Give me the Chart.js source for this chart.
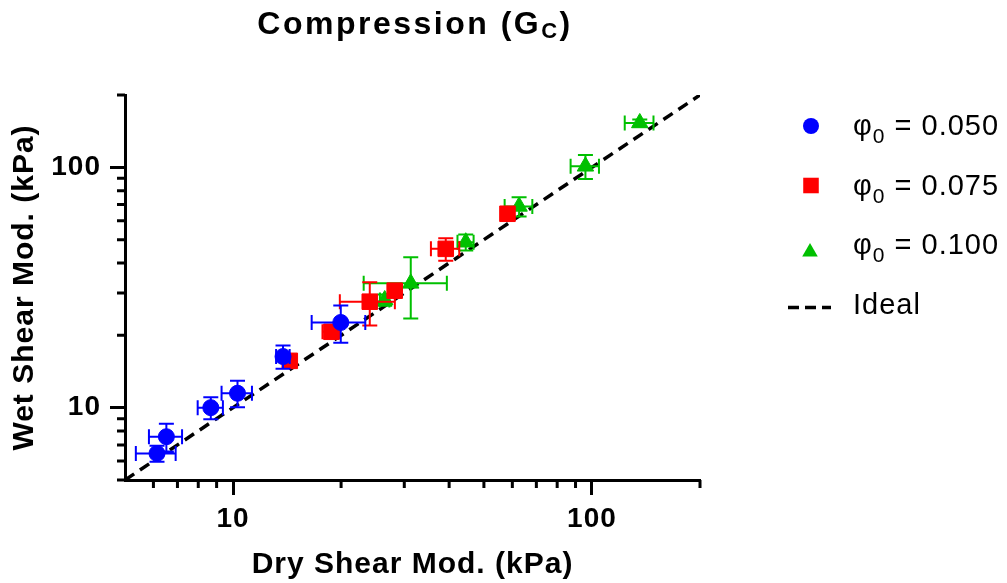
<!DOCTYPE html>
<html>
<head>
<meta charset="utf-8">
<title>Compression (GC)</title>
<script src="https://cdn.jsdelivr.net/npm/chart.js"></script>
<style>
    html, body { margin: 0; padding: 0; background: #fff; }
    #wrap { width: 1007px; height: 583px; position: relative; }
</style>
</head>
<body>
<div id="wrap"><canvas id="chart"></canvas></div>
<script>
// dry vs wet shear modulus (kPa), mean and SD per sample
var seriesLabels = ['0.050', '0.075', '0.100'];

var dryBlue = [6.14, 6.52, 8.67, 10.29, 13.78, 19.96];
var wetBlue = [6.45, 7.57, 10.0, 11.48, 16.32, 22.62];
var dryBlueSd = [0.78, 0.69, 0.70, 1.0, 0.6, 3.4];
var wetBlueSd = [0.5, 1.0, 1.05, 1.45, 1.8, 4.0];

var dryRed = [14.39, 18.8, 24.04, 28.21, 39.14, 58.16];
var wetRed = [15.66, 20.69, 27.6, 30.68, 45.8, 64.1];
var dryRedSd = [0.3, 1.05, 4.2, 1.0, 3.55, 1.5];
var wetRedSd = [0.5, 0.8, 5.65, 1.5, 4.95, 2.0];

var dryGreen = [26.46, 31.27, 44.5, 62.66, 95.9, 135.9];
var wetGreen = [28.06, 32.9, 48.8, 68.77, 101.0, 153.0];
var dryGreenSd = [0.8, 8.15, 2.3, 5.55, 8.7, 12.5];
var wetGreenSd = [1.5, 9.4, 3.7, 6.3, 11.5, 5.0];

var idealX = [5, 200];
var idealY = [5, 200];

var axisTicks = [5, 6, 7, 8, 9, 10, 20, 30, 40, 50, 60, 70, 80, 90, 100, 200];
var labelledTicks = [10, 100];

var FONT = '"Liberation Sans", Arial, Helvetica, sans-serif';
var CAP = 7.5;

function points(xs, ys) {
    return xs.map(function (x, i) { return {x: x, y: ys[i]}; });
}

function isLabelled(v) {
    return labelledTicks.indexOf(v) >= 0;
}

function tickColor(ctx) {
    return ctx.tick && isLabelled(ctx.tick.value) ? '#000' : 'rgba(0,0,0,0)';
}

function tickLabel(value) {
    return isLabelled(value) ? String(value) : '';
}

function drawShape(ctx, style, x, y, r) {
    ctx.beginPath();
    if (style === 'circle') {
        ctx.arc(x, y, r, 0, Math.PI * 2);
    } else if (style === 'rect') {
        var s = Math.SQRT1_2 * r;
        ctx.rect(x - s, y - s, 2 * s, 2 * s);
    } else {
        // same geometry as the chart.js triangle
        ctx.moveTo(x, y - r);
        ctx.lineTo(x + Math.sin(Math.PI * 2 / 3) * r, y + r / 2);
        ctx.lineTo(x - Math.sin(Math.PI * 2 / 3) * r, y + r / 2);
        ctx.closePath();
    }
    ctx.fill();
}

// x and y error bars, drawn under each dataset's own markers
var errorBars = {
    id: 'errorBars',
    beforeDatasetDraw: function (chart, args) {
        var ds = chart.data.datasets[args.index];
        if (!ds.errorX) return;
        var ctx = chart.ctx, xs = chart.scales.x, ys = chart.scales.y;
        ctx.save();
        ctx.strokeStyle = ds.borderColor;
        ctx.lineWidth = 2;
        ctx.beginPath();
        ds.data.forEach(function (p, i) {
            var px = xs.getPixelForValue(p.x), py = ys.getPixelForValue(p.y);
            var x1 = xs.getPixelForValue(p.x - ds.errorX[i]), x2 = xs.getPixelForValue(p.x + ds.errorX[i]);
            var y1 = ys.getPixelForValue(p.y - ds.errorY[i]), y2 = ys.getPixelForValue(p.y + ds.errorY[i]);
            ctx.moveTo(x1, py); ctx.lineTo(x2, py);
            ctx.moveTo(x1, py - CAP); ctx.lineTo(x1, py + CAP);
            ctx.moveTo(x2, py - CAP); ctx.lineTo(x2, py + CAP);
            ctx.moveTo(px, y1); ctx.lineTo(px, y2);
            ctx.moveTo(px - CAP, y1); ctx.lineTo(px + CAP, y1);
            ctx.moveTo(px - CAP, y2); ctx.lineTo(px + CAP, y2);
        });
        ctx.stroke();
        ctx.restore();
    }
};

// short unlabelled ticks, title and legend
var decorations = {
    id: 'decorations',
    beforeDraw: function (chart) {
        chart.ctx.letterSpacing = '1px';
    },
    afterDraw: function (chart) {
        var ctx = chart.ctx, a = chart.chartArea, xs = chart.scales.x, ys = chart.scales.y;
        ctx.save();
        ctx.strokeStyle = '#000';
        ctx.lineWidth = 3;
        ctx.beginPath();
        axisTicks.forEach(function (v) {
            if (isLabelled(v)) return;
            if (v > 5) {
                var px = xs.getPixelForValue(v);
                ctx.moveTo(px, a.bottom); ctx.lineTo(px, a.bottom + 8);
            }
            var py = ys.getPixelForValue(v);
            ctx.moveTo(a.left, py); ctx.lineTo(a.left - 8, py);
        });
        ctx.stroke();

        // title with subscript C
        ctx.fillStyle = '#000';
        ctx.textAlign = 'left';
        ctx.textBaseline = 'alphabetic';
        ctx.letterSpacing = '2.5px';
        ctx.font = 'bold 32px ' + FONT;
        var w1 = ctx.measureText('Compression (G').width;
        var w3 = ctx.measureText(')').width;
        ctx.font = 'bold 22px ' + FONT;
        var w2 = ctx.measureText('C').width;
        var tx = 415 - (w1 + w2 + w3) / 2;
        ctx.font = 'bold 32px ' + FONT;
        ctx.fillText('Compression (G', tx, 34);
        ctx.fillText(')', tx + w1 + w2, 34);
        ctx.font = 'bold 22px ' + FONT;
        ctx.fillText('C', tx + w1, 38);

        // legend
        ctx.letterSpacing = '1px';
        chart.data.datasets.forEach(function (ds, i) {
            var base = 135 + i * 59.5;
            var lx = 853;
            ctx.fillStyle = '#000';
            if (ds.errorX) {
                ctx.font = '29px ' + FONT;
                ctx.fillText('\u03c6', lx, base);
                lx += ctx.measureText('\u03c6').width;
                ctx.font = '21px ' + FONT;
                ctx.fillText('0', lx, base + 8);
                lx += ctx.measureText('0').width;
                ctx.font = '29px ' + FONT;
                ctx.fillText(' = ' + seriesLabels[i], lx, base);
                ctx.fillStyle = ds.backgroundColor;
                if (ds.pointStyle === 'triangle') {
                    drawShape(ctx, 'triangle', 810, base - 2, 9);
                } else {
                    drawShape(ctx, ds.pointStyle, 811, base - 9, ds.pointStyle === 'rect' ? 11 : 8);
                }
            } else {
                ctx.font = '29px ' + FONT;
                ctx.fillText(ds.label, lx, base);
                ctx.strokeStyle = ds.borderColor;
                ctx.lineWidth = 3.5;
                ctx.setLineDash([11, 6]);
                ctx.beginPath();
                ctx.moveTo(788, base - 6);
                ctx.lineTo(831, base - 6);
                ctx.stroke();
                ctx.setLineDash([]);
            }
        });
        ctx.restore();
    }
};

function seriesSet(label, xs, ys, xsd, ysd, color, style, radius) {
    return {
        label: label,
        data: points(xs, ys),
        errorX: xsd,
        errorY: ysd,
        backgroundColor: color,
        borderColor: color,
        pointStyle: style,
        pointRadius: radius,
        pointHoverRadius: radius,
        pointBorderWidth: 1
    };
}

var ctx = document.getElementById('chart');
var chart = new Chart(ctx, {
    type: 'scatter',
    data: {
        datasets: [
            seriesSet('\u03c6\u2080 = ' + seriesLabels[0], dryBlue, wetBlue, dryBlueSd, wetBlueSd, '#0000ff', 'circle', 8),
            seriesSet('\u03c6\u2080 = ' + seriesLabels[1], dryRed, wetRed, dryRedSd, wetRedSd, '#ff0000', 'rect', 11),
            seriesSet('\u03c6\u2080 = ' + seriesLabels[2], dryGreen, wetGreen, dryGreenSd, wetGreenSd, '#00c000', 'triangle', 9.5),
            {
                label: 'Ideal',
                type: 'line',
                data: points(idealX, idealY),
                showLine: true,
                borderColor: '#000',
                backgroundColor: '#000',
                borderWidth: 3.5,
                borderDash: [11, 7],
                pointRadius: 0,
                fill: false
            }
        ]
    },
    options: {
        responsive: true,
        maintainAspectRatio: false,
        animation: false,
        devicePixelRatio: 1,
        layout: {padding: {left: 0, top: 95, right: 307, bottom: 0}},
        plugins: {
            legend: {display: false},
            title: {display: false},
            tooltip: {enabled: false}
        },
        scales: {
            x: {
                type: 'logarithmic',
                position: 'bottom',
                min: 5,
                max: 200,
                afterBuildTicks: function (scale) {
                    scale.ticks = axisTicks.map(function (v) { return {value: v}; });
                },
                afterFit: function (scale) { scale.height = 103; },
                grid: {drawOnChartArea: false, drawTicks: true, tickLength: 15, tickWidth: 3, tickColor: tickColor},
                border: {display: true, color: '#000', width: 3},
                ticks: {
                    autoSkip: false, maxRotation: 0, padding: 7, color: '#000',
                    font: {family: FONT, size: 28, weight: 'bold'},
                    callback: tickLabel
                },
                title: {
                    display: true, text: 'Dry Shear Mod. (kPa)', color: '#000',
                    font: {family: FONT, size: 30, weight: 'bold'},
                    padding: {top: 0, bottom: 0}
                }
            },
            y: {
                type: 'logarithmic',
                position: 'left',
                min: 5,
                max: 200,
                afterBuildTicks: function (scale) {
                    scale.ticks = axisTicks.map(function (v) { return {value: v}; });
                },
                afterFit: function (scale) { scale.width = 125; },
                grid: {drawOnChartArea: false, drawTicks: true, tickLength: 15, tickWidth: 3, tickColor: tickColor},
                border: {display: true, color: '#000', width: 3},
                ticks: {
                    autoSkip: false, padding: 9, color: '#000',
                    font: {family: FONT, size: 28, weight: 'bold'},
                    callback: tickLabel
                },
                title: {
                    display: true, text: 'Wet Shear Mod. (kPa)', color: '#000',
                    font: {family: FONT, size: 30, weight: 'bold'},
                    padding: {top: 7, bottom: 0}
                }
            }
        }
    },
    plugins: [errorBars, decorations]
});
</script>
</body>
</html>
